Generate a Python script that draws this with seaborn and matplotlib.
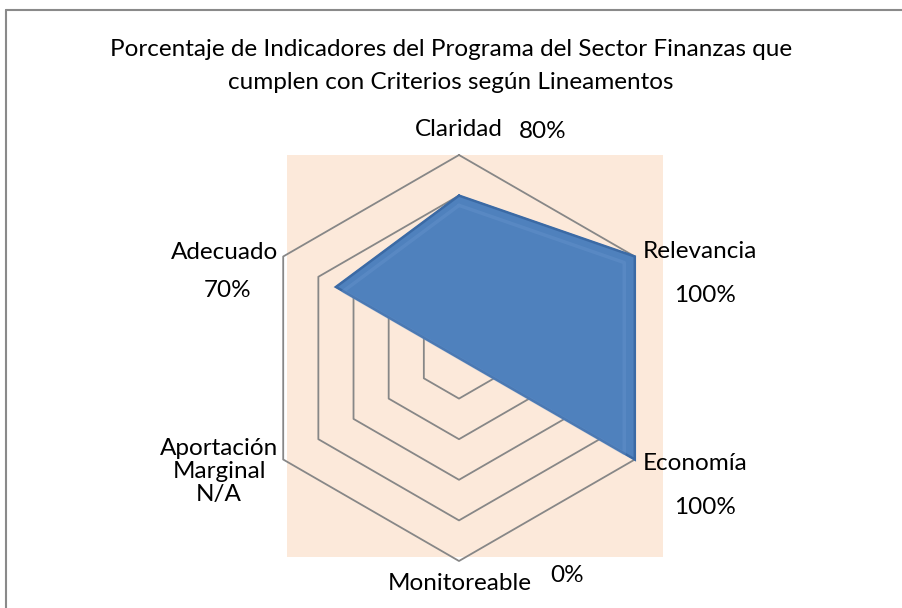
import numpy as np
import pandas as pd
import matplotlib
matplotlib.use("Agg")
import matplotlib.pyplot as plt
import seaborn as sns

# data
categories = ["Claridad", "Relevancia", "Economía", "Monitoreable",
              "Aportación\nMarginal", "Adecuado"]
values = [80, 100, 100, 0, 0, 70]
value_labels = ["80%", "100%", "100%", "0%", "N/A", "70%"]
ring_levels = [20, 40, 60, 80, 100]

sns.set_theme(style="white")
plt.rcParams["font.family"] = ["Lato", "DejaVu Sans"]
plt.rcParams["text.color"] = "black"

W, H = 902, 608
fig = plt.figure(figsize=(W / 100, H / 100), dpi=100)

# plot area (peach box) in pixels
px0, px1, py0, py1 = 287, 663, 155, 557
cx, cy, rad = 459, 358, 203
ax = fig.add_axes([px0 / W, 1 - py1 / H, (px1 - px0) / W, (py1 - py0) / H])
ax.set_facecolor("#FCE9DA")
k = rad / 100.0
ax.set_xlim((px0 - cx) / k, (px1 - cx) / k)
ax.set_ylim(-(py1 - cy) / k, (cy - py0) / k)
ax.set_xticks([])
ax.set_yticks([])
for s in ax.spines.values():
    s.set_visible(False)

n = len(categories)
angles = np.pi / 2 - np.arange(n) * 2 * np.pi / n


def to_xy(r, a):
    return r * np.cos(a), r * np.sin(a)


# hexagon rings
rows = []
for lv in ring_levels:
    for i in list(range(n)) + [0]:
        x, y = to_xy(lv, angles[i])
        rows.append({"x": x, "y": y, "level": lv})
rings = pd.DataFrame(rows)
sns.lineplot(data=rings, x="x", y="y", units="level", estimator=None,
             sort=False, color="#878787", linewidth=1.3, ax=ax,
             legend=False, clip_on=False)
ax.set_xlabel("")
ax.set_ylabel("")

# data polygon
vx, vy = to_xy(np.array(values, float), angles)
ax.fill(vx, vy, color="#4F81BD", zorder=3, clip_on=False)
ax.plot(np.append(vx, vx[0]), np.append(vy, vy[0]), color="#3B6AA5",
        linewidth=1.8, zorder=4, clip_on=False, solid_joinstyle="miter")
# soft inner highlight (bevel look)
ax.plot(np.append(vx, vx[0]) * 0.94, np.append(vy, vy[0]) * 0.94,
        color="#6A97CF", linewidth=2.5, alpha=0.35, zorder=4, clip_on=False)

# label offsets in pixels from each r=100 vertex: (name dx, dy, ha), (value dx, dy)
name_off = [(0, 26, "center"), (8, 5, "left"), (8, -4, "left"),
            (1, -22, "center"), (-5, -12, "right"), (-5, 4, "right")]
val_off = [(84, 23), (70, -39), (70, -48), (108, -14), (-54, -37), (-56, -34)]

fs = 17.5
for i in range(n):
    x, y = to_xy(100, angles[i])
    dx, dy, ha = name_off[i]
    if i == 4:
        ax.annotate(categories[i] + "\n" + value_labels[i], (x, y),
                    xytext=(dx, dy), textcoords="offset pixels",
                    ha="right", va="center", multialignment="center",
                    fontsize=fs, linespacing=1.1, annotation_clip=False)
        continue
    ax.annotate(categories[i], (x, y), xytext=(dx, dy),
                textcoords="offset pixels", ha=ha, va="center",
                fontsize=fs, annotation_clip=False)
    vdx, vdy = val_off[i]
    ax.annotate(value_labels[i], (x, y), xytext=(vdx, vdy),
                textcoords="offset pixels", ha="center", va="center",
                fontsize=fs, annotation_clip=False)

fig.text(0.5, 1 - 66 / H,
         "Porcentaje de Indicadores del Programa del Sector Finanzas que\n"
         "cumplen con Criterios según Lineamentos",
         ha="center", va="center", fontsize=17.5, linespacing=1.72)

# chart border (top and left visible)
fig.add_artist(plt.Line2D([6 / W, 6 / W], [0, 1 - 10 / H],
                          transform=fig.transFigure, color="#8A8A8A", lw=1.5))
fig.add_artist(plt.Line2D([6 / W, 1], [1 - 10 / H, 1 - 10 / H],
                          transform=fig.transFigure, color="#8A8A8A", lw=1.5))

fig.savefig("out.png", dpi=100)
